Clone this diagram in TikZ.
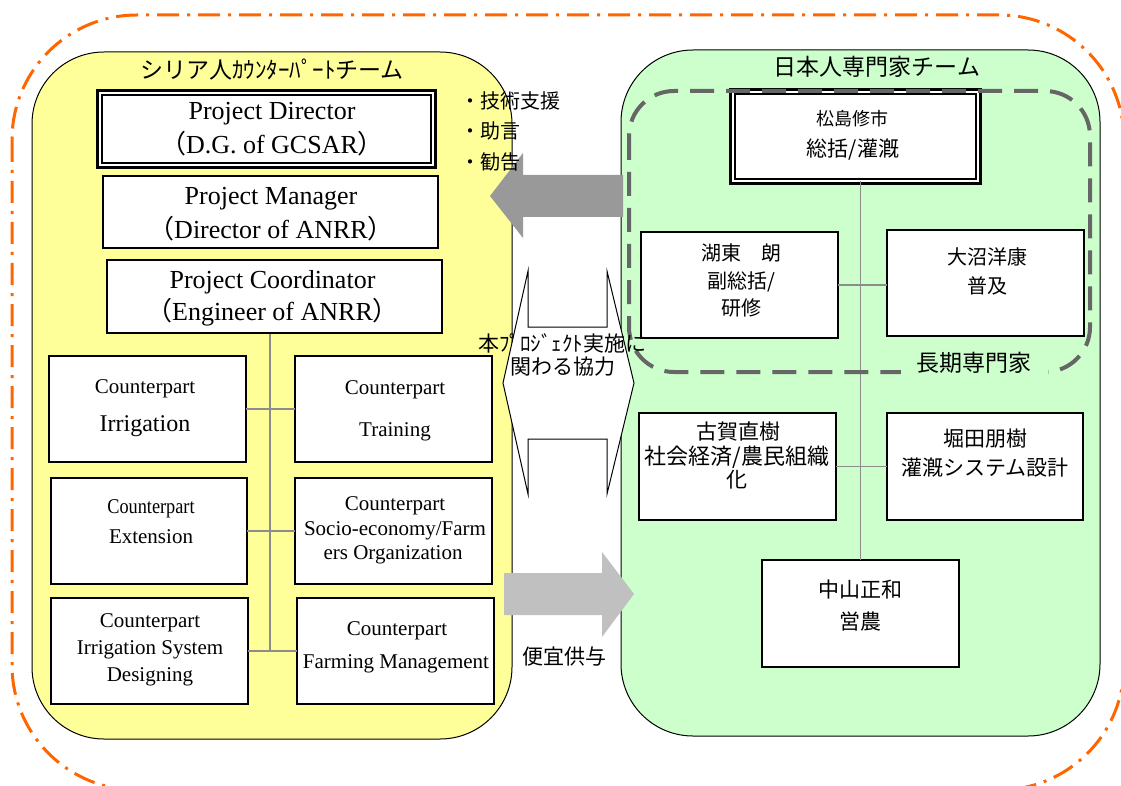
\documentclass[tikz,border=0pt]{standalone}
\usepackage{fontspec}
\usepackage{graphicx}
\setmainfont{Liberation Serif}
\newfontfamily\jp{Noto Sans CJK JP}
\newcommand\fsz[1]{\fontsize{#1}{#1}\selectfont}
\definecolor{orangeline}{HTML}{FF6600}
\definecolor{yel}{HTML}{FFFF99}
\definecolor{grn}{HTML}{CCFFCC}
\definecolor{darkarrow}{HTML}{999999}
\definecolor{lightarrow}{HTML}{C0C0C0}
\definecolor{dashgray}{HTML}{666666}
\definecolor{conn}{HTML}{8C8C8C}
\begin{document}
\begin{tikzpicture}[x=1pt,y=-1pt,
  box/.style={draw=black,line width=1.8pt,fill=white,inner sep=0pt,outer sep=0pt},
  dbox/.style={draw=black,line width=7pt,fill=white,inner sep=0pt,outer sep=0pt,
     postaction={draw=white,line width=1.6pt}},
  t/.style={inner sep=0pt,align=center},
  en/.style={t,font=\fsz{26},yshift=-2pt},
  cp/.style={t,font=\fsz{21},yshift=-1.5pt},
  ja/.style={t,font=\jp\fsz{20}},
  link/.style={draw=conn,line width=1.6pt}]
\useasboundingbox (0,0) rectangle (1121,786);
\clip (0,0) rectangle (1121,786);
% outer dash-dot frame
\draw[orangeline,line width=3pt,dash pattern=on 22pt off 8pt on 3pt off 8pt,
  rounded corners=125pt] (12,15) rectangle (1124,790);
% team containers
\node[draw=black,line width=1pt,fill=yel,rounded corners=72pt,minimum width=480pt,
  minimum height=687pt,inner sep=0pt] (syr) at (272,395.5) {};
\node[draw=black,line width=1pt,fill=grn,rounded corners=72pt,minimum width=479pt,
  minimum height=686pt,inner sep=0pt] (jpn) at (860.5,393) {};
\node[t,font=\jp\fsz{23}] (syrT) at (272,70) {シリア人ｶｳﾝﾀｰﾊﾟｰﾄチーム};
\node[t,font=\jp\fsz{23}] (jpT) at (877,67) {日本人専門家チーム};
% left connectors
\coordinate (lbot) at (270,651);
\coordinate (ltop) at (270,333);
\draw[link] (ltop) -- (lbot);
% left boxes
\node[dbox,minimum width=333.5pt,minimum height=72.5pt] (pd) at (266.5,129) {};
\node[box,minimum width=335pt,minimum height=72pt] (pm) at (270.5,212) {};
\node[box,minimum width=335pt,minimum height=73pt] (pc) at (274.5,296.5) {};
\node[box,minimum width=197pt,minimum height=106pt] (irr) at (147.5,409) {};
\node[box,minimum width=197pt,minimum height=106pt] (train) at (393.5,409) {};
\node[box,minimum width=196pt,minimum height=106pt] (ext) at (149,531) {};
\node[box,minimum width=197pt,minimum height=106pt] (socio) at (393.5,531) {};
\node[box,minimum width=197pt,minimum height=106pt] (des) at (149.5,651) {};
\node[box,minimum width=197pt,minimum height=106pt] (farm) at (395.5,651) {};
\draw[link] (irr.east) -- (train.west);
\draw[link] (ext.east) -- (socio.west);
\draw[link] (des.east) -- (farm.west);
% left texts
\node[en] (pd1) at (272,112) {Project Director};
\node[en] (pd2) at (272,142) {{\jp （}D.G. of GCSAR{\jp ）}};
\node[en] (pm1) at (271,197) {Project Manager};
\node[en] (pm2) at (271,227) {{\jp （}Director of ANRR{\jp ）}};
\node[en] (pc1) at (272.5,280) {Project Coordinator};
\node[en] (pc2) at (272.5,310) {{\jp （}Engineer of ANRR{\jp ）}};
\node[cp] (irr1) at (145,387) {Counterpart};
\node[t,font=\fsz{24},yshift=-1.5pt] (irr2) at (145,425) {Irrigation};
\node[cp] (tr1) at (395,388) {Counterpart};
\node[cp] (tr2) at (395,430) {Training};
\node[cp] (ex1) at (151,507) {\scalebox{0.87}[1]{Counterpart}};
\node[cp] (ex2) at (151,535) {Extension};
\node[cp] (so1) at (395,504) {Counterpart};
\node[cp] (so2) at (395,529) {Socio-economy/Farm};
\node[cp] (so3) at (393,553) {ers Organization};
\node[cp] (de1) at (150,621) {Counterpart};
\node[cp] (de2) at (150,648) {Irrigation System};
\node[cp] (de3) at (150,675) {Designing};
\node[cp] (fa1) at (397,629) {Counterpart};
\node[cp] (fa2) at (396,662) {Farming Management};
% right connectors and boxes
\node[box,minimum width=197pt,minimum height=106pt] (kotou) at (739.5,285) {};
\node[box,minimum width=197pt,minimum height=106pt] (oonuma) at (985.5,283) {};
\node[box,minimum width=197pt,minimum height=107pt] (koga) at (737.5,466.5) {};
\node[box,minimum width=196pt,minimum height=107pt] (hotta) at (985,466.5) {};
\node[box,minimum width=197pt,minimum height=107pt] (naka) at (860.5,613.5) {};
\node[dbox,minimum width=245.5pt,minimum height=89.5pt] (matsu) at (855.5,136.5) {};
\draw[link] (naka.north) -- (naka.north |- matsu.south);
\draw[link] (kotou.east) -- (kotou.east -| oonuma.west);
\draw[link] (koga.east) -- (hotta.west);
\node[t,font=\jp\fsz{18}] (ma1) at (852,119) {松島修市};
\node[t,font=\jp\fsz{21}] (ma2) at (853,150) {総括/灌漑};
\node[ja] (ko1) at (741,253) {湖東　朗};
\node[ja] (ko2) at (741,282) {副総括/};
\node[ja] (ko3) at (741,308) {研修};
\node[ja] (oo1) at (987,257) {大沼洋康};
\node[ja] (oo2) at (987,286) {普及};
\node[t,font=\jp\fsz{21}] (kg1) at (738,432) {古賀直樹};
\node[t,font=\jp\fsz{22}] (kg2) at (737,457) {社会経済/農民組織};
\node[t,font=\jp\fsz{21}] (kg3) at (737,480) {化};
\node[t,font=\jp\fsz{21}] (ho1) at (985,439) {堀田朋樹};
\node[t,font=\jp\fsz{21}] (ho2) at (985,467) {灌漑システム設計};
\node[t,font=\jp\fsz{21}] (na1) at (860,590) {中山正和};
\node[t,font=\jp\fsz{21}] (na2) at (860,622) {営農};
% long-term experts group
\draw[dashgray,line width=4pt,dash pattern=on 24pt off 12pt,rounded corners=45pt]
  (629,91) rectangle (1090,372);
\node[t,font=\jp\fsz{23},fill=grn,inner xsep=16pt,inner ysep=4pt] (lt) at (974,363) {長期専門家};
% arrows
\fill[darkarrow] (623,175) -- (523,175) -- (523,153) -- (490,196) -- (523,238)
  -- (523,217) -- (623,217) -- cycle;
\fill[lightarrow] (504,573) -- (602,573) -- (602,552) -- (634,594) -- (602,637)
  -- (602,615) -- (504,615) -- cycle;
% cooperation double shape
\draw[fill=white,line width=1pt] (528,271) -- (528,327) -- (607,327) -- (607,271)
  -- (634,383) -- (607,494) -- (607,439) -- (528,439) -- (528,494) -- (503,383) -- cycle;
\node[t,font=\jp\fsz{21}] (co1) at (562,343) {本ﾌﾟﾛｼﾞｪｸﾄ実施に};
\node[t,font=\jp\fsz{21}] (co2) at (563,367) {関わる協力};
\node[t,font=\jp\fsz{21}] (bg) at (564,657) {便宜供与};
\node[t,font=\jp\fsz{20},anchor=west] (ad1) at (460,101) {・技術支援};
\node[t,font=\jp\fsz{20},anchor=west] (ad2) at (460,131) {・助言};
\node[t,font=\jp\fsz{20},anchor=west] (ad3) at (460,162) {・勧告};
\end{tikzpicture}
\end{document}
